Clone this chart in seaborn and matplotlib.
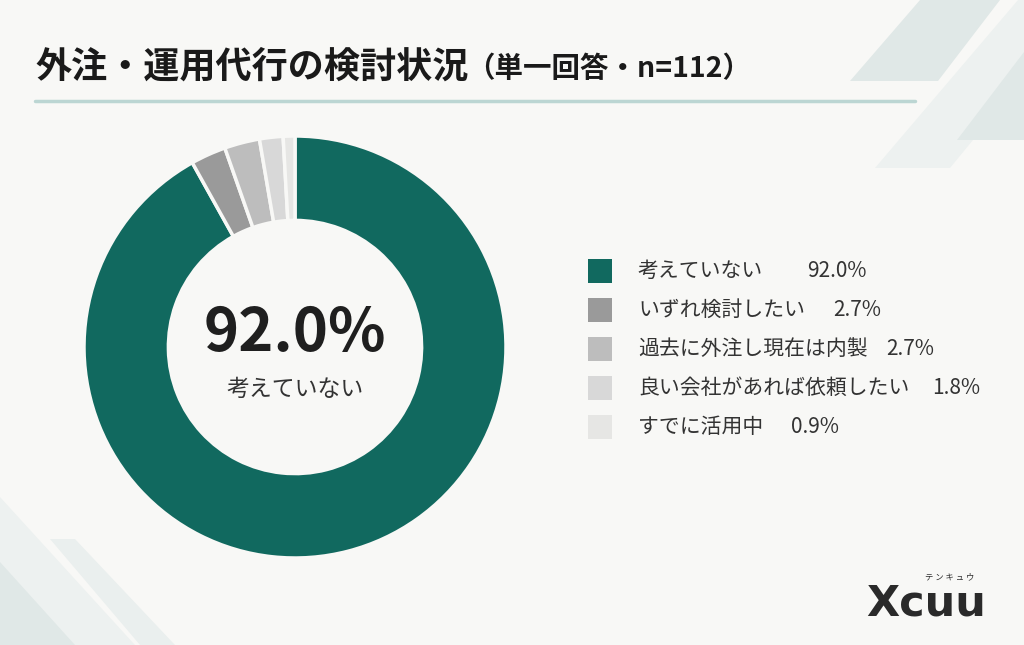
import numpy as np
import seaborn as sns
import matplotlib.pyplot as plt
from matplotlib.patches import Polygon, Rectangle
from matplotlib.lines import Line2D

# data
labels = ["考えていない", "いずれ検討したい", "過去に外注し現在は内製", "良い会社があれば依頼したい", "すでに活用中"]
shares = [92.0, 2.7, 2.7, 1.8, 0.9]
colors = ["#11695f", "#9a9a9a", "#bdbdbd", "#d8d8d8", "#e6e6e4"]
title_main = "外注・運用代行の検討状況"
title_sub = "（単一回答・n=112）"

BG = "#f8f8f6"
W, H = 1024, 645

sns.set_theme(style="white")
plt.rcParams['font.family'] = ['Noto Sans CJK JP', 'DejaVu Sans']

fig = plt.figure(figsize=(W / 100, H / 100), dpi=100, facecolor=BG)


def fx(x):
    return x / W


def fy(y):
    return 1 - y / H


def poly(points, color):
    pts = [(fx(x), fy(y)) for x, y in points]
    fig.patches.append(Polygon(pts, closed=True, transform=fig.transFigure,
                               facecolor=color, edgecolor="none", zorder=0))


# background decorations
poly([(850, 81), (938, 81), (1000, 0), (920, 0)], "#e0e8e7")
poly([(875, 168), (950, 168), (1024, 78), (1024, 0), (1018, 0)], "#edf1f0")
poly([(957, 140), (1024, 140), (1024, 52)], "#e0e8e7")
poly([(0, 497), (0, 645), (135, 645)], "#edf1f0")
poly([(0, 562), (0, 645), (75, 645)], "#e0e8e7")
poly([(50, 539), (75, 539), (175, 645), (140, 645)], "#eaefee")

# title and divider
fig.text(fx(35), fy(67), title_main, fontsize=26, fontweight="bold",
         color="#1a1a1a", va="center", ha="left")
fig.text(fx(466), fy(69), title_sub, fontsize=20.5, fontweight="bold",
         color="#1a1a1a", va="center", ha="left")
fig.lines.append(Line2D([fx(35), fx(915)], [fy(101), fy(101)], transform=fig.transFigure,
                        color="#bcd6d3", linewidth=2.5))

# donut
cx, cy, r = 295, 347, 211
ax = fig.add_axes([fx(cx - r), fy(cy + r), 2 * r / W, 2 * r / H])
ax.set_facecolor("none")
wedges, _ = ax.pie(shares, colors=colors, startangle=90, counterclock=False,
                   radius=1.0, wedgeprops=dict(width=0.4, edgecolor=BG, linewidth=2.5))
ax.set_xlim(-1, 1)
ax.set_ylim(-1, 1)
ax.set_aspect("equal")
ax.axis("off")

ax.text(0, 0.06, f"{shares[0]:.1f}%", fontsize=43, fontweight="bold",
        color="#1f1f1f", ha="center", va="center")
ax.text(0, -0.2, labels[0], fontsize=16.5, color="#333333", ha="center", va="center")

# legend
row_y = [271, 310, 349, 388, 427]
pct_x = [807, 833, 886, 932, 791]
for lab, val, col, y, px in zip(labels, shares, colors, row_y, pct_x):
    fig.patches.append(Rectangle((fx(588), fy(y + 12)), 24 / W, 24 / H,
                                 transform=fig.transFigure, facecolor=col, edgecolor="none"))
    fig.text(fx(638), fy(y), lab, fontsize=15, color="#333333", va="center", ha="left")
    fig.text(fx(px), fy(y), f"{val:.1f}%", fontsize=15, color="#333333", va="center", ha="left")

# logo
fig.text(fx(866), fy(604), "Xcuu", fontsize=31, fontweight="bold", family="DejaVu Sans",
         color="#2a2a2a", va="center", ha="left")
fig.text(fx(950), fy(577), "テ ン キ ュ ウ", fontsize=6, color="#2a2a2a", va="center", ha="center")

fig.savefig("out.png", dpi=100, facecolor=BG)
